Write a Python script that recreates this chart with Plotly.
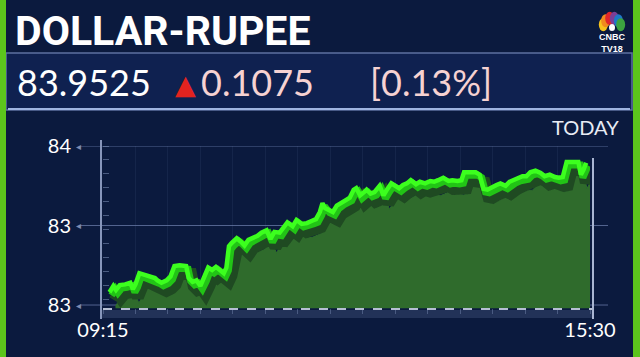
import math
import plotly.graph_objects as go

# ---------------- data ----------------
minutes = [5, 8, 10, 13, 17, 21, 23, 25, 28, 32, 36, 40, 42, 45, 49, 52, 55, 59, 64, 66,
           69, 72, 75, 78, 81, 84, 87, 90, 93, 95, 97, 99, 103, 106, 109, 112, 115, 119, 122, 126,
           129, 132, 136, 140, 142, 146, 149, 153, 157, 161, 164, 167, 169, 171, 173, 177, 180, 184, 187, 190,
           193, 195, 198, 201, 203, 206, 209, 213, 216, 219, 222, 225, 228, 231, 234, 237, 241, 244, 248, 252,
           255, 258, 262, 266, 269, 273, 276, 278, 283, 287, 290, 293, 296, 299, 303, 306, 310, 313, 316, 320,
           323, 326, 329, 333, 337, 340, 344, 348, 351, 354, 357, 361, 366, 368, 370, 372]
rate = [83.816, 83.824, 83.819, 83.825, 83.826, 83.828, 83.820, 83.826, 83.840, 83.838, 83.836, 83.834, 83.831, 83.828, 83.831, 83.836, 83.849, 83.850, 83.849, 83.834,
        83.829, 83.831, 83.824, 83.834, 83.847, 83.844, 83.848, 83.844, 83.840, 83.847, 83.874, 83.878, 83.884, 83.880, 83.875, 83.882, 83.884, 83.887, 83.891, 83.894,
        83.883, 83.892, 83.891, 83.901, 83.904, 83.899, 83.907, 83.902, 83.903, 83.906, 83.908, 83.917, 83.928, 83.922, 83.920, 83.917, 83.925, 83.930, 83.932, 83.935,
        83.945, 83.947, 83.938, 83.942, 83.945, 83.940, 83.942, 83.950, 83.938, 83.946, 83.953, 83.950, 83.947, 83.951, 83.953, 83.957, 83.952, 83.955, 83.953, 83.956,
        83.955, 83.957, 83.960, 83.956, 83.957, 83.956, 83.957, 83.967, 83.967, 83.967, 83.964, 83.946, 83.945, 83.948, 83.951, 83.953, 83.950, 83.955, 83.957, 83.960,
        83.962, 83.962, 83.967, 83.969, 83.966, 83.962, 83.964, 83.961, 83.960, 83.961, 83.980, 83.980, 83.980, 83.964, 83.970, 83.979]

x_tick_vals = [0, 375]
x_tick_text = ["09:15", "15:30"]
y_tick_vals = [83.80, 83.90, 84.00]
y_tick_text = ["83", "83", "84"]

title_text = "DOLLAR-RUPEE"
last_text = "83.9525"
change_text = "0.1075"
pct_text = "[0.13%]"
period_text = "TODAY"

# ---------------- geometry / style ----------------
W, H = 640, 357
NAVY = "#0b1a3e"
X_RANGE = [0, 375]
Y_RANGE = [83.796, 84.0]
PX_L, PX_R = 103, 590          # pixel positions of x range ends
PX_TOP, PX_BOT = 146, 308.2    # pixel positions of y range ends
dom_x = [PX_L / W, PX_R / W]
dom_y = [1 - PX_BOT / H, 1 - PX_TOP / H]
min_per_px = (X_RANGE[1] - X_RANGE[0]) / (PX_R - PX_L)
val_per_px = (Y_RANGE[1] - Y_RANGE[0]) / (PX_BOT - PX_TOP)
FONT = "Lato, Open Sans, sans-serif"


def shifted(dx_px, dy_px):
    """axis ranges that draw the same data dx px right, dy px down"""
    xr = [X_RANGE[0] - dx_px * min_per_px, X_RANGE[1] - dx_px * min_per_px]
    yr = [Y_RANGE[0] + dy_px * val_per_px, Y_RANGE[1] + dy_px * val_per_px]
    return xr, yr


def px(xp):
    return xp / W


def py(yp):
    return 1 - yp / H


fig = go.Figure()

# fill (deepest offset)
fig.add_trace(go.Scatter(x=minutes, y=rate, xaxis="x2", yaxis="y2", mode="lines",
                         line=dict(color="#2f6d2c", width=1), fill="tozeroy",
                         fillcolor="#2f6b2c", hoverinfo="skip", showlegend=False))
# shadow
fig.add_trace(go.Scatter(x=minutes, y=rate, xaxis="x3", yaxis="y3", mode="lines",
                         line=dict(color="#1f4a22", width=12), hoverinfo="skip", showlegend=False))
# side face of the 3D ribbon
fig.add_trace(go.Scatter(x=minutes, y=rate, xaxis="x4", yaxis="y4", mode="lines",
                         line=dict(color="#22c416", width=7), hoverinfo="skip", showlegend=False))
# bright top line
fig.add_trace(go.Scatter(x=minutes, y=rate, xaxis="x5", yaxis="y5", mode="lines",
                         line=dict(color="#3cff1e", width=4.5), showlegend=False))

offsets = {2: (6, 14), 3: (5, 8), 4: (2, 3), 5: (0, 0)}
layout_axes = {}
for k, (dx, dy) in offsets.items():
    xr, yr = shifted(dx, dy)
    layout_axes[f"xaxis{k}"] = dict(overlaying="x", anchor=f"y{k}", range=xr, visible=False,
                                   fixedrange=True, automargin=False)
    layout_axes[f"yaxis{k}"] = dict(overlaying="y", anchor=f"x{k}", range=yr, visible=False,
                                   fixedrange=True, automargin=False)

shapes = []
# green side borders
shapes.append(dict(type="rect", xref="paper", yref="paper", x0=0, x1=px(6), y0=0, y1=1,
                   fillcolor="#5cc51c", line=dict(width=0), layer="above"))
shapes.append(dict(type="rect", xref="paper", yref="paper", x0=px(633), x1=1, y0=0, y1=1,
                   fillcolor="#5cc51c", line=dict(width=0), layer="above"))
# info bar
shapes.append(dict(type="rect", xref="paper", yref="paper", x0=px(6), x1=px(632), y0=py(110), y1=py(53),
                   fillcolor="#0f2150", line=dict(color="#5d70a0", width=1.5), layer="below"))
shapes.append(dict(type="line", xref="paper", yref="paper", x0=px(8), x1=px(630), y0=py(109), y1=py(109),
                   line=dict(color="#9fb4e0", width=2), layer="below"))
# horizontal grid lines at tick values
for v in y_tick_vals:
    shapes.append(dict(type="line", xref="paper", yref="y", x0=px(80), x1=px(608), y0=v, y1=v,
                       line=dict(color="#53648f", width=1), layer="below"))
# bottom ruler band
shapes.append(dict(type="rect", xref="paper", yref="paper", x0=px(101), x1=px(593), y0=py(318), y1=py(310),
                   fillcolor="rgba(140,160,210,0.18)", line=dict(width=0), layer="below"))
# dashed base line
shapes.append(dict(type="line", xref="paper", yref="paper", x0=px(103), x1=px(593), y0=py(309), y1=py(309),
                   line=dict(color="#b5bed3", width=2, dash="dash"), layer="above"))
# left and right vertical axis lines
shapes.append(dict(type="line", xref="paper", yref="paper", x0=px(101), x1=px(101), y0=py(319), y1=py(140),
                   line=dict(color="#8796bb", width=2), layer="above"))
shapes.append(dict(type="line", xref="paper", yref="paper", x0=px(593), x1=px(593), y0=py(319), y1=py(158),
                   line=dict(color="#a9b5d2", width=2), layer="above"))

# peacock logo feathers
feather_cols = ["#f6c21c", "#f08a1e", "#e0262b", "#7b3f98", "#1f78c8", "#3ca33f"]
cx, cy = 612, 27
for i, c in enumerate(feather_cols):
    ang = math.radians(165 - i * 30)
    fx, fy = cx + 9 * math.cos(ang), cy - 9 * math.sin(ang)
    shapes.append(dict(type="circle", xref="paper", yref="paper",
                       x0=px(fx - 4.5), x1=px(fx + 4.5), y0=py(fy + 6.5), y1=py(fy - 6.5),
                       fillcolor=c, line=dict(width=0), layer="above"))
shapes.append(dict(type="circle", xref="paper", yref="paper", x0=px(cx - 3), x1=px(cx + 3),
                   y0=py(cy + 4), y1=py(cy - 3), fillcolor="#ffffff", line=dict(width=0), layer="above"))

annotations = [
    dict(text=f"<b>{title_text}</b>", xref="paper", yref="paper", x=px(13), y=py(31),
         xanchor="left", yanchor="middle", showarrow=False,
         font=dict(family="Roboto, Inter, sans-serif", size=41, color="#ffffff")),
    dict(text=last_text, xref="paper", yref="paper", x=px(15), y=py(82),
         xanchor="left", yanchor="middle", showarrow=False,
         font=dict(family=FONT, size=36, color="#ffffff")),
    dict(text="▲", xref="paper", yref="paper", x=px(185), y=py(84),
         xanchor="center", yanchor="middle", showarrow=False,
         font=dict(family="DejaVu Sans", size=27, color="#e3231f")),
    dict(text=change_text, xref="paper", yref="paper", x=px(199), y=py(82),
         xanchor="left", yanchor="middle", showarrow=False,
         font=dict(family=FONT, size=36, color="#f6d2d2")),
    dict(text=pct_text, xref="paper", yref="paper", x=px(368), y=py(82),
         xanchor="left", yanchor="middle", showarrow=False,
         font=dict(family=FONT, size=36, color="#f6d2d2")),
    dict(text=period_text, xref="paper", yref="paper", x=px(621), y=py(127),
         xanchor="right", yanchor="middle", showarrow=False,
         font=dict(family=FONT, size=20, color="#e8ecf4")),
    dict(text="<b>CNBC</b><br><b>TV18</b>", xref="paper", yref="paper", x=px(612), y=py(43),
         xanchor="center", yanchor="middle", showarrow=False, align="center",
         font=dict(family="Liberation Sans, Arial, sans-serif", size=9, color="#ffffff")),
]
# small arrowheads next to the y labels
for v in y_tick_vals:
    annotations.append(dict(text="◂", xref="paper", yref="y", x=px(78), y=v, xanchor="center",
                            yanchor="middle", showarrow=False,
                            font=dict(family="DejaVu Sans", size=10, color="#7d8bb0")))

fig.update_layout(
    template="none",
    width=W, height=H,
    autosize=False,
    margin=dict(l=0, r=0, t=0, b=0, pad=0, autoexpand=False),
    paper_bgcolor=NAVY, plot_bgcolor="rgba(0,0,0,0)",
    showlegend=False,
    xaxis=dict(domain=dom_x, range=X_RANGE, tickvals=x_tick_vals, ticktext=x_tick_text,
               showgrid=False, zeroline=False, showline=False, ticks="", automargin=False,
               ticklabelstandoff=8, fixedrange=True,
               tickfont=dict(family=FONT, size=20, color="#ffffff"),
               minor=dict(dtick=25, showgrid=True, gridcolor="rgba(120,140,190,0.10)",
                          ticks="outside", ticklen=5, tickcolor="rgba(150,170,210,0.35)")),
    yaxis=dict(domain=dom_y, range=Y_RANGE, tickvals=y_tick_vals, ticktext=y_tick_text,
               showgrid=False, zeroline=False, showline=False, ticks="", automargin=False,
               ticklabelstandoff=31, fixedrange=True,
               tickfont=dict(family=FONT, size=20, color="#ffffff"),
               minor=dict(dtick=0.0175, ticks="inside", ticklen=6, tickcolor="rgba(150,170,210,0.45)")),
    shapes=shapes,
    annotations=annotations,
    **layout_axes,
)

fig.write_html("out.html")
